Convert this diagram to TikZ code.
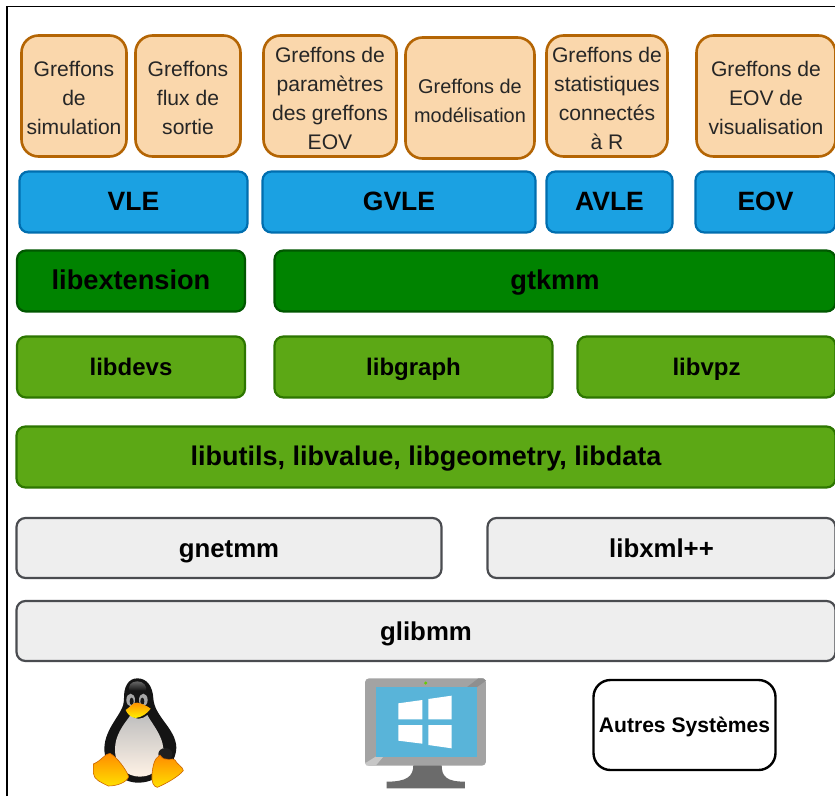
\documentclass[tikz,border=0pt]{standalone}
\usepackage{fontspec}
\setmainfont{Liberation Sans}
\definecolor{orfill}{HTML}{FAD7AC}
\definecolor{orline}{HTML}{B46504}
\definecolor{blfill}{HTML}{1BA1E2}
\definecolor{blline}{HTML}{006EAF}
\definecolor{dgfill}{HTML}{008300}
\definecolor{dgline}{HTML}{005700}
\definecolor{gnfill}{HTML}{5CA815}
\definecolor{gnline}{HTML}{2D7600}
\definecolor{gyfill}{HTML}{EEEEEE}
\definecolor{gyline}{HTML}{4A4C50}
\definecolor{scr}{HTML}{59B4D9}
\newcommand{\lowA}{\rule{0pt}{20pt}}
\newcommand{\lowB}{\rule{0pt}{21pt}}
\tikzset{
  layerbox/.style={draw,rounded corners=9pt,line width=2.2pt,inner sep=0pt,align=center,text=black},
  plugin/.style={layerbox,fill=orfill,draw=orline,line width=2.6pt,rounded corners=17pt,text=black!85,font=\fontsize{21.1}{29}\selectfont},
  bluebox/.style={layerbox,fill=blfill,draw=blline,font=\fontsize{26.5}{30}\selectfont\bfseries,text height=19pt,text depth=2pt},
  darkbox/.style={layerbox,fill=dgfill,draw=dgline,font=\fontsize{27.2}{30}\selectfont\bfseries,text height=19.5pt,text depth=2pt},
  greenbox/.style={layerbox,fill=gnfill,draw=gnline,font=\fontsize{24}{28}\selectfont\bfseries,text height=17.2pt,text depth=0pt},
  greybox/.style={layerbox,fill=gyfill,draw=gyline,font=\fontsize{25.8}{28}\selectfont\bfseries,text height=18.5pt,text depth=0pt},
  sysbox/.style={layerbox,fill=white,draw=black,line width=2.4pt,rounded corners=17pt,font=\fontsize{21.1}{26}\selectfont\bfseries,text height=15.5pt,text depth=0pt},
  size/.style 2 args={minimum width={#1pt-1pt},minimum height={#2pt-1pt}}
}
\begin{document}
\begin{tikzpicture}[x=1pt,y=-1pt]
\useasboundingbox (0,0) rectangle (835,796);
\clip (0,0) rectangle (835,796);
\fill[white] (0,0) rectangle (835,796);
\draw[line width=1.2pt,black] (7,796) -- (7,6.5) -- (835,6.5);
% plugins
\node[plugin,size={106}{122}] (p1) at (74,96) {\lowA Greffons\\de\\simulation};
\node[plugin,size={106}{122}] (p2) at (188,96) {\lowA Greffons\\flux de\\sortie};
\node[plugin,size={134}{122}] (p3) at (330,96) {\lowA Greffons de\\paramètres\\des greffons\\EOV};
\node[plugin,size={130}{122},font=\fontsize{19.9}{29}\selectfont] (p4) at (470,98) {\lowB Greffons de\\modélisation};
\node[plugin,size={122}{122}] (p5) at (607,96) {\lowA Greffons de\\statistiques\\connectés\\à R};
\node[plugin,size={140}{122}] (p6) at (766,96) {\lowA Greffons de\\EOV de\\visualisation};
% applications
\node[bluebox,size={229}{62}] (vle) at (133.5,202) {VLE};
\node[bluebox,size={274}{62}] (gvle) at (399,202) {GVLE};
\node[bluebox,size={127}{62}] (avle) at (609.5,202) {AVLE};
\node[bluebox,size={141}{62}] (eov) at (765.5,202) {EOV};
% libraries
\node[darkbox,size={229}{62}] (libext) at (131,281) {libextension};
\node[darkbox,size={562}{62}] (gtkmm) at (555,281) {gtkmm};
\node[greenbox,size={229}{62}] (libdevs) at (131,367) {libdevs};
\node[greenbox,size={279}{62}] (libgraph) at (413.5,367) {libgraph};
\node[greenbox,size={259}{62}] (libvpz) at (706.5,367) {libvpz};
\node[greenbox,size={820}{62},font=\fontsize{27}{30}\selectfont\bfseries,text height=19.4pt,text depth=2pt] (libutils) at (426,457) {libutils, libvalue, libgeometry, libdata};
\node[greybox,size={426}{61}] (gnetmm) at (229,548) {gnetmm};
\node[greybox,size={349}{61}] (libxml) at (661.5,548) {libxml++};
\node[greybox,size={820}{61}] (glibmm) at (426,631) {glibmm};
\node[sysbox,size={183}{91}] (autres) at (684.5,725) {Autres Systèmes};
% penguin
\begin{scope}[shift={(60,660)},x=0.3333pt,y=-0.3333pt]
\fill[black!92] (232,55) .. controls (205,55) and (190,80) .. (192,120)
  .. controls (192,160) and (135,200) .. (133,265)
  .. controls (133,320) and (180,368) .. (235,368)
  .. controls (300,368) and (349,310) .. (349,262)
  .. controls (347,205) and (283,170) .. (280,115)
  .. controls (278,80) and (262,55) .. (232,55) -- cycle;
\shade[top color=black!60,bottom color=black!92] (232,64) .. controls (212,64) and (204,78) .. (208,92) -- (258,92) .. controls (262,78) and (250,64) .. (232,64) -- cycle;
\shade[top color=black!25,middle color=black!8,bottom color=orange!10] (212,165) .. controls (190,195) and (165,225) .. (165,268)
  .. controls (165,320) and (200,350) .. (240,350)
  .. controls (285,350) and (312,315) .. (310,265)
  .. controls (307,225) and (275,190) .. (262,165)
  .. controls (245,180) and (225,180) .. (212,165) -- cycle;
\fill[black!88] (316,282) ellipse (21 and 18);
\fill[black!35] (212,120) ellipse (13 and 19);
\fill[black!35] (250,120) ellipse (13 and 19);
\fill[black!90] (215,124) ellipse (6 and 11);
\fill[black!90] (247,124) ellipse (6 and 11);
\shade[top color=orange!90!yellow,bottom color=yellow!90!orange] (197,150) .. controls (210,142) and (220,125) .. (232,128)
  .. controls (245,130) and (262,138) .. (272,146)
  .. controls (262,160) and (245,172) .. (227,174)
  .. controls (212,172) and (202,162) .. (197,150) -- cycle;
\shade[top color=orange!90!yellow,bottom color=yellow!75!orange,draw=orange!80!black,line width=0.6pt] (100,312) .. controls (125,302) and (135,280) .. (150,280)
  .. controls (170,290) and (200,330) .. (206,350)
  .. controls (200,368) and (170,378) .. (145,378)
  .. controls (125,368) and (102,360) .. (100,340) -- cycle;
\shade[top color=orange!90!yellow,bottom color=yellow!75!orange,draw=orange!80!black,line width=0.6pt] (300,285) .. controls (315,310) and (340,290) .. (345,300)
  .. controls (350,312) and (370,322) .. (370,332)
  .. controls (355,350) and (320,370) .. (292,382)
  .. controls (280,380) and (274,365) .. (276,345)
  .. controls (278,320) and (282,295) .. (300,285) -- cycle;
\end{scope}
% monitor
\begin{scope}[shift={(350,660)},x=0.3333pt,y=-0.3333pt]
\fill[black!58] (190,315) -- (275,315) .. controls (275,350) and (290,365) .. (345,365) -- (345,385) -- (110,385) -- (110,365) .. controls (170,365) and (190,350) .. (190,315) -- cycle;
\fill[black!36,rounded corners=4pt] (45,55) rectangle (408,317);
\fill[black!22] (77,317) -- (50,317) -- (45,310) -- (77,290) -- (100,290) -- cycle;
\fill[black!44] (380,82) -- (350,82) -- (385,55) -- (400,55) -- (408,62) -- cycle;
\fill[scr] (77,82) rectangle (380,290);
\fill[green!50!yellow!80!black] (227,69) circle (5);
\fill[white] (145,130) -- (217,120) -- (217,178) -- (145,178) -- cycle;
\fill[white] (235,117) -- (305,107) -- (305,178) -- (235,178) -- cycle;
\fill[white] (145,195) -- (217,195) -- (217,251) -- (145,242) -- cycle;
\fill[white] (235,195) -- (305,195) -- (305,265) -- (235,255) -- cycle;
\end{scope}
\end{tikzpicture}
\end{document}
